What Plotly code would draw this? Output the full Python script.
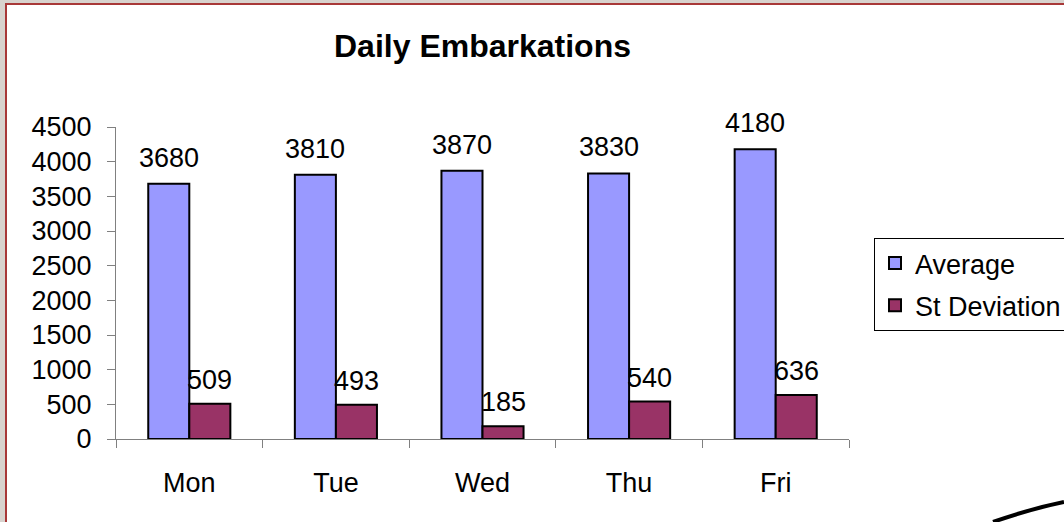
import plotly.graph_objects as go

# chart data
days = ['Mon', 'Tue', 'Wed', 'Thu', 'Fri']
average = [3680, 3810, 3870, 3830, 4180]
st_deviation = [509, 493, 185, 540, 636]
y_ticks = [0, 500, 1000, 1500, 2000, 2500, 3000, 3500, 4000, 4500]

FONT = 'Liberation Sans, Arial, sans-serif'

fig = go.Figure()
fig.add_trace(go.Bar(x=days, y=average, name='Average', legendgroup='a',
                     marker=dict(color='#9999FF', line=dict(color='black', width=2))))
fig.add_trace(go.Bar(x=days, y=st_deviation, name='St Deviation', legendgroup='s',
                     marker=dict(color='#993366', line=dict(color='black', width=2))))

# value labels above each bar (offset to the bar centres of each group)
for day, a, s in zip(days, average, st_deviation):
    fig.add_annotation(x=day, y=a, text=str(a), showarrow=False, xshift=-20.5,
                       yshift=9, yanchor='bottom', font=dict(size=27, color='black'))
    fig.add_annotation(x=day, y=s, text=str(s), showarrow=False, xshift=20.5,
                       yshift=7, yanchor='bottom', font=dict(size=27, color='black'))

# slide frame: white panel with red border on grey background, plus a curve
fig.add_shape(type='rect', xref='paper', yref='paper',
              x0=(6 - 116) / 733, x1=1.5, y0=-0.5, y1=(439 - 4) / 312,
              line=dict(color='#A83838', width=2), fillcolor='white', layer='below')
fig.add_shape(type='path', xref='paper', yref='paper',
              path='M 1.1965 -0.266 Q 1.247 -0.2244 1.2933 -0.2019',
              line=dict(color='black', width=4))

fig.update_layout(
    width=1064, height=522,
    title=dict(text='<b>Daily Embarkations</b>', x=0.5, xref='paper',
               y=1 - 46 / 522, yanchor='middle',
               font=dict(size=32, color='black', family=FONT)),
    font=dict(family=FONT, size=27, color='black'),
    barmode='group', bargap=0.44, bargroupgap=0,
    paper_bgcolor='#D8D3CE', plot_bgcolor='rgba(0,0,0,0)',
    margin=dict(l=116, r=215, t=127, b=83, autoexpand=False),
    showlegend=True,
    legend=dict(x=(874 - 116) / 733, y=(439 - 238) / 312, xanchor='left', yanchor='top',
                bordercolor='black', borderwidth=1, bgcolor='white',
                tracegroupgap=4, font=dict(size=27, color='black')),
    xaxis=dict(showline=True, linecolor='#808080', linewidth=1, ticks='outside',
               tickson='boundaries', ticklen=8, tickcolor='#808080',
               ticklabelstandoff=20, showgrid=False),
    yaxis=dict(range=[0, 4500], tickvals=y_ticks, showline=True, linecolor='#808080',
               linewidth=1, ticks='outside', ticklen=8, tickcolor='#808080',
               ticklabelstandoff=10, showgrid=False, zeroline=False),
)

# drop the default page margin so the figure fills the window
fig.write_html('out.html', config={'displayModeBar': False},
               post_script="document.body.style.margin='0';")
